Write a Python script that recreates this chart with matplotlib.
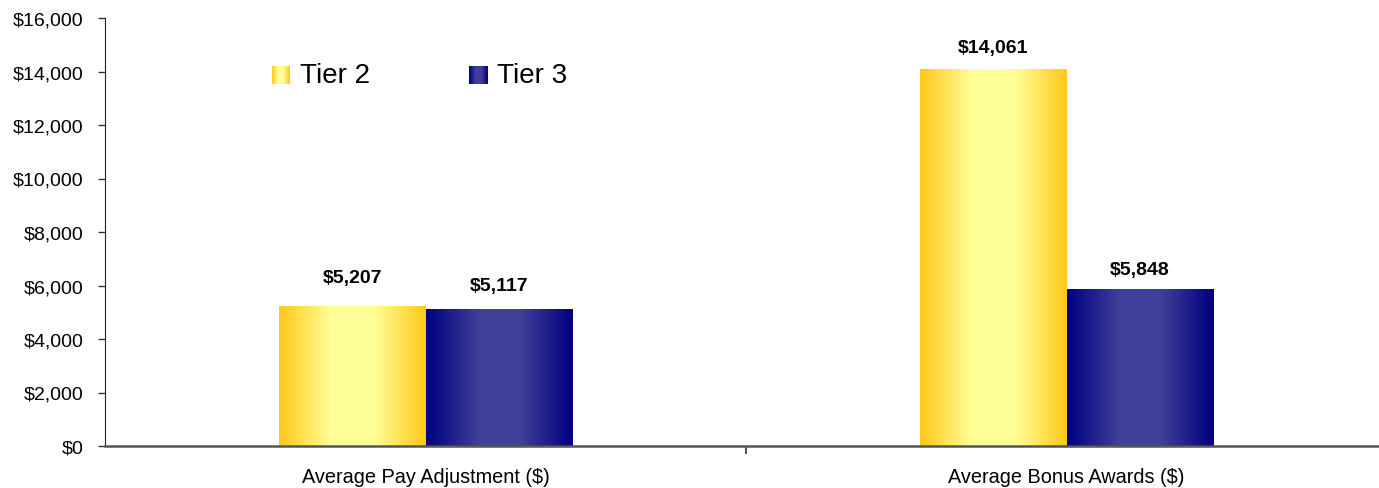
import numpy as np
import matplotlib
matplotlib.use("Agg")
import matplotlib.pyplot as plt
from matplotlib.colors import LinearSegmentedColormap
from matplotlib.ticker import FuncFormatter

plt.rcParams['font.family'] = ['Liberation Sans', 'DejaVu Sans']

# data
categories = ["Average Pay Adjustment ($)", "Average Bonus Awards ($)"]
series = ["Tier 2", "Tier 3"]
tier2 = [5207, 14061]
tier3 = [5117, 5848]
label_pad = [[15, 10], [11, 8.5]]  # points above bar (per series, per category)

# horizontal gradients like the old Excel fill
gold = LinearSegmentedColormap.from_list(
    "gold", [(0, "#FFC81A"), (0.36, "#FFFF99"), (0.64, "#FFFF99"), (1, "#FFC81A")])
navy = LinearSegmentedColormap.from_list(
    "navy", [(0, "#000080"), (0.36, "#404099"), (0.64, "#404099"), (1, "#000080")])
cmaps = [gold, navy]
grad = np.linspace(0, 1, 256).reshape(1, -1)

fig = plt.figure(figsize=(13.79, 4.89), dpi=100)
ax = fig.add_axes([105/1379, 42/489, 1274/1379, 428/489])

x = np.arange(len(categories))
w = 0.229
for s, vals in enumerate([tier2, tier3]):
    off = (s - 0.5) * w
    for i, v in enumerate(vals):
        x0 = x[i] + off - w/2
        ax.imshow(grad, cmap=cmaps[s], aspect='auto', extent=(x0, x0 + w, 0, v),
                  interpolation='bilinear', zorder=2)
        ax.annotate(f"${v:,}", (x[i] + off, v), xytext=(0, label_pad[s][i]),
                    textcoords='offset points', ha='center', va='bottom',
                    fontsize=14, fontweight='bold')

ax.set_xlim(-0.5, -0.5 + 1274/641)
ax.set_ylim(0, 16000)
ax.set_yticks(np.arange(0, 16001, 2000))
ax.yaxis.set_major_formatter(FuncFormatter(lambda v, p: f"${v:,.0f}"))
ax.set_xticks(x)
ax.set_xticklabels(categories)
ax.set_xticks([0.5], minor=True)
ax.tick_params(axis='x', which='major', length=0, labelsize=14.3, pad=15)
ax.tick_params(axis='x', which='minor', length=6, width=1.5, color='#555555')
ax.tick_params(axis='y', length=5, width=1, color='#333333', labelsize=14, pad=10.5)

for sp in ['top', 'right']:
    ax.spines[sp].set_visible(False)
ax.spines['left'].set_color('#222222')
ax.spines['bottom'].set_color('#555555')
ax.spines['bottom'].set_linewidth(1.8)

# legend with gradient squares
for s, name in enumerate(series):
    lx = [272, 469][s]
    sq = fig.add_axes([lx/1379, (489-85)/489, 18/1379, 18/489])
    sq.imshow(grad, cmap=cmaps[s], aspect='auto', interpolation='bilinear')
    sq.axis('off')
    fig.text((lx + 28)/1379, (489-76)/489, name, fontsize=20, va='center', ha='left')

fig.savefig("out.png", dpi=100)
